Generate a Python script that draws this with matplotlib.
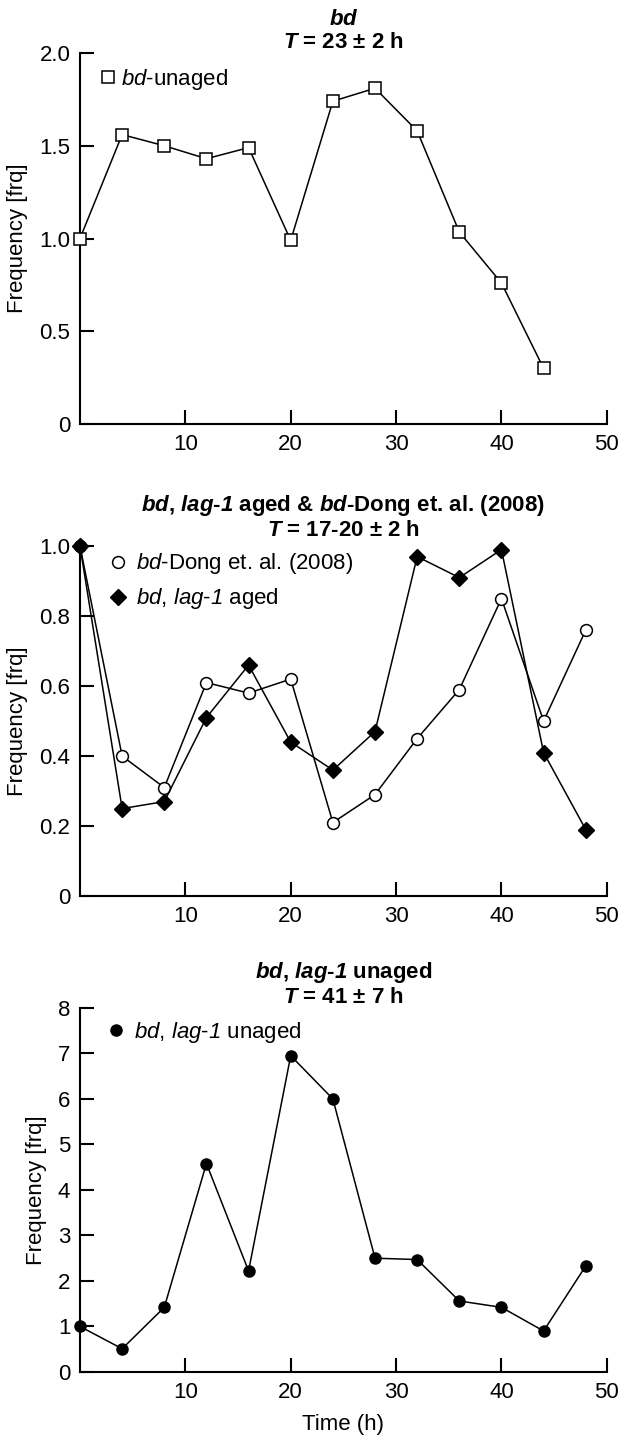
import matplotlib
matplotlib.use('Agg')
import matplotlib.pyplot as plt

plt.rcParams['font.family'] = ['Liberation Sans', 'DejaVu Sans']
plt.rcParams['mathtext.fontset'] = 'custom'
plt.rcParams['mathtext.rm'] = 'Liberation Sans'
plt.rcParams['mathtext.bf'] = 'Liberation Sans:bold'
# cal -> italic, sf -> bold italic (these keep digits italic too)
plt.rcParams['mathtext.cal'] = 'Liberation Sans:italic'
plt.rcParams['mathtext.sf'] = 'Liberation Sans:bold:italic'

# panel 1: bd unaged
t_bd = [0, 4, 8, 12, 16, 20, 24, 28, 32, 36, 40, 44]
bd_unaged = [1.0, 1.56, 1.50, 1.43, 1.49, 0.99, 1.74, 1.81, 1.58, 1.035, 0.76, 0.30]

# panel 2: bd-Dong and bd, lag-1 aged
t_48 = [0, 4, 8, 12, 16, 20, 24, 28, 32, 36, 40, 44, 48]
bd_dong = [1.0, 0.40, 0.31, 0.61, 0.58, 0.62, 0.21, 0.29, 0.45, 0.59, 0.85, 0.50, 0.76]
lag1_aged = [1.0, 0.25, 0.27, 0.51, 0.66, 0.44, 0.36, 0.47, 0.97, 0.91, 0.99, 0.41, 0.19]

# panel 3: bd, lag-1 unaged
lag1_unaged = [1.0, 0.51, 1.42, 4.58, 2.22, 6.95, 6.0, 2.5, 2.47, 1.56, 1.42, 0.90, 2.33]

x_ticks = [10, 20, 30, 40, 50]
y1_ticks = [0, 0.5, 1.0, 1.5, 2.0]
y1_labels = ['0', '0.5', '1.0', '1.5', '2.0']
y2_ticks = [0, 0.2, 0.4, 0.6, 0.8, 1.0]
y2_labels = ['0', '0.2', '0.4', '0.6', '0.8', '1.0']
y3_ticks = [0, 1, 2, 3, 4, 5, 6, 7, 8]

FS = 16

fig = plt.figure(figsize=(6.22, 14.36), dpi=100)
ax1 = fig.add_axes([0.1286, 0.7047, 0.847, 0.2584])
ax2 = fig.add_axes([0.1286, 0.3760, 0.847, 0.2437])
ax3 = fig.add_axes([0.1286, 0.0446, 0.847, 0.2535])


def style(ax, yt, yl, ymax):
    ax.set_xlim(0, 50)
    ax.set_ylim(0, ymax)
    ax.set_xticks(x_ticks)
    ax.set_yticks(yt)
    ax.set_yticklabels(yl)
    for s in ['top', 'right']:
        ax.spines[s].set_visible(False)
    for s in ['left', 'bottom']:
        ax.spines[s].set_linewidth(1.5)
    ax.tick_params(direction='in', length=10, width=1.5, labelsize=FS, pad=7)
    ax.set_ylabel('Frequency [frq]', fontsize=FS, labelpad=8)


def leg(ax, x, y, pad=0.8, **kw):
    ax.legend(loc='upper left', bbox_to_anchor=(x, y), frameon=False,
              handlelength=0, handletextpad=pad, fontsize=FS,
              borderaxespad=0, borderpad=0, **kw)


line_kw = dict(color='black', lw=1.1, clip_on=False, zorder=3)

ax1.plot(t_bd, bd_unaged, marker='s', ms=8, mfc='white', mec='black', mew=1.1,
         label=r'$\mathcal{bd}$-unaged', **line_kw)
style(ax1, y1_ticks, y1_labels, 2.0)
ax1.set_title(r'$\mathsf{bd}$' + '\n' + r'$\mathsf{T}$ = 23 ± 2 h',
              fontsize=FS, fontweight='bold', pad=1, linespacing=1.15)
leg(ax1, 0.053, 0.962, pad=0.6)

ax2.plot(t_48, bd_dong, marker='o', ms=8.5, mfc='white', mec='black', mew=1.1,
         label=r'$\mathcal{bd}$-Dong et. al. (2008)', **line_kw)
ax2.plot(t_48, lag1_aged, marker='D', ms=8, mfc='black', mec='black',
         label=r'$\mathcal{bd}$, $\mathcal{lag}$-$\mathcal{1}$ aged', **line_kw)
style(ax2, y2_ticks, y2_labels, 1.0)
ax2.set_title(r'$\mathsf{bd}$, $\mathsf{lag}$-$\mathsf{1}$ aged & $\mathsf{bd}$-Dong et. al. (2008)'
              + '\n' + r'$\mathsf{T}$ = 17-20 ± 2 h',
              fontsize=FS, fontweight='bold', pad=7, linespacing=1.15)
leg(ax2, 0.072, 0.985, labelspacing=0.45)

ax3.plot(t_48, lag1_unaged, marker='o', ms=8, mfc='black', mec='black',
         label=r'$\mathcal{bd}$, $\mathcal{lag}$-$\mathcal{1}$ unaged', **line_kw)
style(ax3, y3_ticks, [str(v) for v in y3_ticks], 8)
ax3.set_title(r'$\mathsf{bd}$, $\mathsf{lag}$-$\mathsf{1}$ unaged' + '\n' + r'$\mathsf{T}$ = 41 ± 7 h',
              fontsize=FS, fontweight='bold', pad=1, linespacing=1.15)
leg(ax3, 0.068, 0.968)
ax3.set_xlabel('Time (h)', fontsize=FS, labelpad=8)

fig.savefig('out.png', dpi=100)
